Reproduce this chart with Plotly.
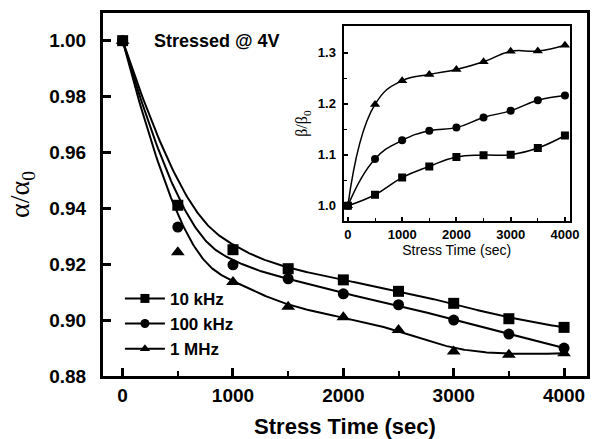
import numpy as np
import plotly.graph_objects as go

# Stress time (s)
t_main = [0, 500, 1000, 1500, 2000, 2500, 3000, 3500, 4000]
# Normalised alpha after stress at 4 V
alpha_10k = [1.000, 0.9411, 0.9252, 0.9184, 0.9144, 0.9103, 0.9060, 0.9005, 0.8974]
alpha_100k = [1.000, 0.9333, 0.9198, 0.9148, 0.9094, 0.9055, 0.9000, 0.8950, 0.8900]
alpha_1M = [1.000, 0.9243, 0.9136, 0.9048, 0.9010, 0.8965, 0.8888, 0.8876, 0.8881]

# Normalised beta (inset)
t_inset = [0, 500, 1000, 1500, 2000, 2500, 3000, 3500, 4000]
beta_10k = [1.000, 1.0214, 1.0550, 1.0770, 1.0955, 1.0990, 1.1000, 1.1130, 1.1375]
beta_100k = [1.000, 1.0916, 1.1280, 1.1470, 1.1530, 1.1730, 1.1860, 1.2065, 1.2160]
beta_1M = [1.000, 1.1985, 1.2450, 1.2570, 1.2670, 1.2820, 1.3025, 1.3030, 1.3143]

series_names = ["10 kHz", "100 kHz", "1 MHz"]
symbols = ["square", "circle", "triangle-up"]


def bspline_curve(px, py, deg=3, num=400):
    """Clamped uniform B-spline using the data points as control points."""
    px = np.asarray(px, float)
    py = np.asarray(py, float)
    n = len(px)
    kv = np.concatenate([np.zeros(deg), np.arange(n - deg + 1), np.full(deg, n - deg)]).astype(float)
    t = np.linspace(0, n - deg, num)
    N = np.zeros((n + deg, num))
    for i in range(n + deg):
        N[i] = ((kv[i] <= t) & (t < kv[i + 1])).astype(float)
    N[n - 1, t >= kv[n]] = 1.0
    for d in range(1, deg + 1):
        Nn = np.zeros((n + deg - d, num))
        for i in range(n + deg - d):
            a = kv[i + d] - kv[i]
            b = kv[i + d + 1] - kv[i + 1]
            term = np.zeros(num)
            if a > 0:
                term += (t - kv[i]) / a * N[i]
            if b > 0:
                term += (kv[i + d + 1] - t) / b * N[i + 1]
            Nn[i] = term
        N = Nn
    return N.T @ px, N.T @ py


fig = go.Figure()

BOLD = dict(family="Liberation Sans", color="black", weight="bold")

# main panel: smoothed curves + markers
for name, sym, vals in zip(series_names, symbols, [alpha_10k, alpha_100k, alpha_1M]):
    cx, cy = bspline_curve(t_main, vals)
    fig.add_trace(go.Scatter(x=cx, y=cy, mode="lines", line=dict(color="black", width=2),
                             showlegend=False, hoverinfo="skip"))
    fig.add_trace(go.Scatter(x=t_main, y=vals, mode="markers", showlegend=False,
                             marker=dict(symbol=sym, color="black",
                                         size=12 if sym == "triangle-up" else 11)))
    # legend entry
    fig.add_trace(go.Scatter(x=[None], y=[None], mode="lines+markers", name=name,
                             line=dict(color="black", width=2),
                             marker=dict(symbol=sym, color="black", size=9)))

# inset panel
for name, sym, vals in zip(series_names, symbols, [beta_10k, beta_100k, beta_1M]):
    fig.add_trace(go.Scatter(x=t_inset, y=vals, mode="lines+markers", xaxis="x2", yaxis="y2",
                             line=dict(color="black", width=1.5, shape="spline", smoothing=1.3),
                             marker=dict(symbol=sym, color="black", size=8 if sym != "triangle-up" else 9),
                             showlegend=False))

fig.update_layout(
    width=598, height=439,
    margin=dict(l=103, r=2, t=13, b=63),
    paper_bgcolor="white", plot_bgcolor="white",
    xaxis=dict(
        range=[-178, 4208], tickvals=[0, 1000, 2000, 3000, 4000],
        ticks="inside", ticklen=8, tickwidth=2.5, tickcolor="black",
        minor=dict(tickvals=[500, 1500, 2500, 3500], ticks="inside", ticklen=5, tickwidth=2, tickcolor="black"),
        showline=True, linewidth=3, linecolor="black", mirror=True,
        showgrid=False, zeroline=False,
        tickfont=dict(size=19, **BOLD),
        title=dict(text="Stress Time (sec)", font=dict(size=22, **BOLD), standoff=14),
    ),
    yaxis=dict(
        range=[0.88, 1.0099], tickvals=[0.88, 0.90, 0.92, 0.94, 0.96, 0.98, 1.00],
        ticktext=["0.88", "0.90", "0.92", "0.94", "0.96", "0.98", "1.00"],
        ticks="inside", ticklen=8, tickwidth=2.5, tickcolor="black",
        showline=True, linewidth=3, linecolor="black", mirror=True,
        showgrid=False, zeroline=False, ticklabelstandoff=10,
        tickfont=dict(size=19, **BOLD),
        title=dict(text="α/α<sub>0</sub>", font=dict(family="Liberation Serif", size=28, color="black"),
                   standoff=12),
    ),
    xaxis2=dict(
        domain=[0.497, 0.9645], anchor="y2",
        range=[-80, 4090], tickvals=[0, 1000, 2000, 3000, 4000],
        ticks="inside", ticklen=4, tickwidth=1.5, tickcolor="black",
        minor=dict(tickvals=[500, 1500, 2500, 3500], ticks="inside", ticklen=3, tickwidth=1.2, tickcolor="black"),
        showline=True, linewidth=2, linecolor="black", mirror=True,
        showgrid=False, zeroline=False,
        tickfont=dict(size=13, **BOLD),
        title=dict(text="Stress Time (sec)", font=dict(family="Liberation Sans", size=14, color="black"),
                   standoff=5),
    ),
    yaxis2=dict(
        domain=[0.427, 0.9633], anchor="x2",
        range=[0.970, 1.3515], tickvals=[1.0, 1.1, 1.2, 1.3],
        ticktext=["1.0", "1.1", "1.2", "1.3"],
        ticks="inside", ticklen=4, tickwidth=1.5, tickcolor="black",
        minor=dict(tickvals=[1.05, 1.15, 1.25], ticks="inside", ticklen=3, tickwidth=1.2, tickcolor="black"),
        showline=True, linewidth=2, linecolor="black", mirror=True,
        showgrid=False, zeroline=False, ticklabelstandoff=3,
        tickfont=dict(size=13, **BOLD),
        title=dict(text="β/β<sub>0</sub>", font=dict(family="Liberation Serif", size=16, color="black"),
                   standoff=6),
    ),
    legend=dict(
        x=0.035, y=0.262, xanchor="left", yanchor="top",
        bgcolor="rgba(0,0,0,0)", font=dict(size=17, **BOLD),
        itemwidth=40, tracegroupgap=0,
    ),
    annotations=[dict(
        text="Stressed @ 4V", x=267, y=1.0, xref="x", yref="y",
        xanchor="left", yanchor="middle", showarrow=False,
        font=dict(size=18, **BOLD),
    )],
)

fig.write_html("out.html")
